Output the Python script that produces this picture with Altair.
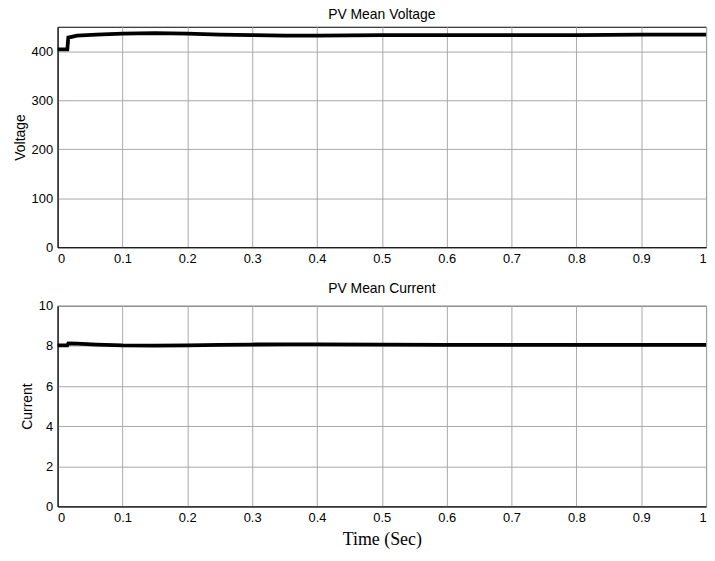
import altair as alt
import pandas as pd

# Voltage series
v_time = [0.0, 0.015, 0.0165, 0.03, 0.06, 0.10, 0.15, 0.20, 0.25, 0.30, 0.35, 0.40, 0.50, 0.60, 0.70, 0.80, 0.90, 1.0]
v_vals = [404, 404, 428, 432, 434, 436, 437, 436, 434, 433, 432, 432, 433, 433, 433, 433, 434, 434]

# Current series
c_time = [0.0, 0.015, 0.0165, 0.03, 0.06, 0.10, 0.15, 0.20, 0.25, 0.30, 0.35, 0.40, 0.50, 0.60, 0.70, 0.80, 0.90, 1.0]
c_vals = [8.03, 8.03, 8.12, 8.11, 8.07, 8.03, 8.02, 8.03, 8.05, 8.07, 8.08, 8.08, 8.06, 8.05, 8.05, 8.05, 8.05, 8.05]

x_ticks = [0, 0.1, 0.2, 0.3, 0.4, 0.5, 0.6, 0.7, 0.8, 0.9, 1]
v_ticks = [0, 100, 200, 300, 400]
c_ticks = [0, 2, 4, 6, 8, 10]

vdf = pd.DataFrame({"t": v_time, "v": v_vals})
cdf = pd.DataFrame({"t": c_time, "c": c_vals})

W = 653

top = alt.Chart(vdf, title=alt.TitleParams("PV Mean Voltage")).mark_line(
    color="black", strokeWidth=3.8, strokeCap="butt"
).encode(
    x=alt.X("t:Q", scale=alt.Scale(domain=[0, 1], nice=False),
            axis=alt.Axis(values=x_ticks, title=None, format="~g")),
    y=alt.Y("v:Q", scale=alt.Scale(domain=[0, 450], nice=False),
            axis=alt.Axis(values=v_ticks, title="Voltage")),
).properties(width=W, height=222)

bottom = alt.Chart(cdf, title=alt.TitleParams("PV Mean Current")).mark_line(
    color="black", strokeWidth=3.8, strokeCap="butt"
).encode(
    x=alt.X("t:Q", scale=alt.Scale(domain=[0, 1], nice=False),
            axis=alt.Axis(values=x_ticks, title="Time (Sec)", format="~g",
                          titleFont="Liberation Serif", titleFontSize=18,
                          titlePadding=6)),
    y=alt.Y("c:Q", scale=alt.Scale(domain=[0, 10], nice=False),
            axis=alt.Axis(values=c_ticks, title="Current")),
).properties(width=W, height=202)

chart = alt.vconcat(top, bottom, spacing=15).properties(
    padding={"left": 12, "top": 5, "right": 0, "bottom": 5},
    background="white",
).configure_view(
    stroke="black", strokeWidth=1
).configure_axis(
    labelFont="Liberation Sans", labelFontSize=13, labelColor="black",
    titleFont="Liberation Sans", titleFontSize=14, titleFontWeight="normal",
    titleColor="black", domainColor="black", domainWidth=1,
    ticks=False, labelPadding=5, titlePadding=4,
    gridColor="#a8a8a8", gridWidth=1,
).configure_title(
    font="Liberation Sans", fontSize=14, fontWeight="normal", color="black",
    offset=4,
)

chart.save("out.html", embed_options={"renderer": "svg", "actions": False})
